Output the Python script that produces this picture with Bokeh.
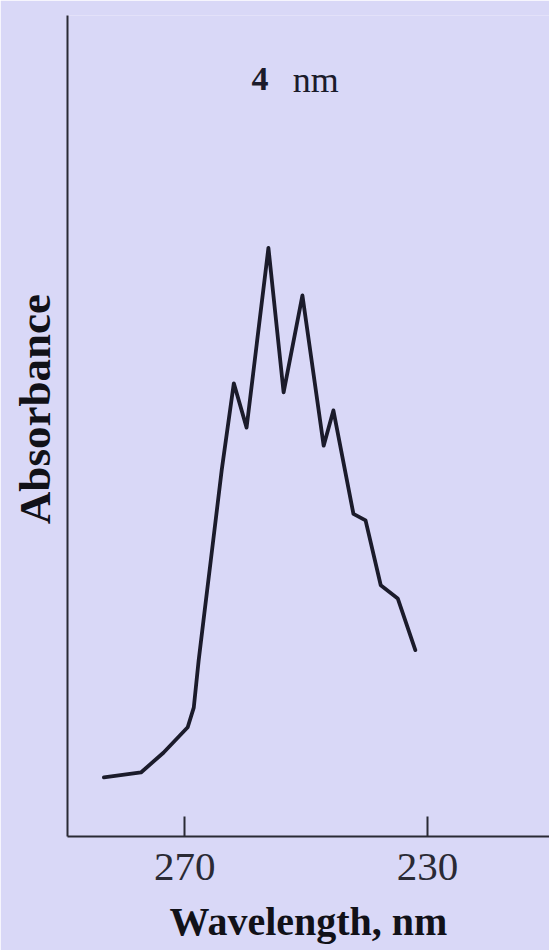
from bokeh.plotting import figure
from bokeh.models import Range1d, FixedTicker, Label
from bokeh.embed import file_html
from bokeh.resources import INLINE

# Absorption spectrum recorded with a 4 nm spectral bandwidth
wavelength_nm = [283.3, 277.2, 273.5, 269.5, 268.5, 267.7, 266.9, 265.7, 263.9,
                 261.9, 259.8, 256.2, 253.7, 250.6, 247.1, 245.5, 242.2, 240.2,
                 237.7, 234.9, 232.0]
absorbance = [0.072, 0.078, 0.102, 0.133, 0.157, 0.214, 0.263, 0.336, 0.446,
              0.552, 0.498, 0.717, 0.541, 0.659, 0.476, 0.519, 0.393, 0.385,
              0.306, 0.290, 0.227]
x_ticks = [270, 230]
bandwidth_text = ["4", "nm"]

BG = "#D9D8F7"
INK = "#1b1b2b"
SERIF = "Liberation Serif"

p = figure(width=549, height=950, output_backend="svg", toolbar_location=None,
           x_range=Range1d(289.3, 209.9), y_range=Range1d(0, 1.0),
           min_border_left=67, min_border_right=0, min_border_top=15,
           min_border_bottom=114)

p.background_fill_color = BG
p.border_fill_color = BG
p.outline_line_color = None
p.xgrid.visible = False
p.ygrid.visible = False

p.line(wavelength_nm, absorbance, line_color=INK, line_width=3.8,
       line_join="round", line_cap="round")

# Wavelength axis: inward ticks only at the labelled values
xa = p.xaxis[0]
xa.ticker = FixedTicker(ticks=x_ticks)
xa.minor_tick_line_color = None
xa.major_tick_in = 20
xa.major_tick_out = 0
xa.major_tick_line_color = "#2a2a35"
xa.major_tick_line_width = 2
xa.axis_line_color = "#2a2a35"
xa.axis_line_width = 2.2
xa.major_label_text_font = SERIF
xa.major_label_text_font_size = "41px"
xa.major_label_text_color = "#2a2a35"
xa.major_label_standoff = 17
xa.axis_label = "Wavelength, nm"
xa.axis_label_text_font = SERIF
xa.axis_label_text_font_style = "bold"
xa.axis_label_text_font_size = "40px"
xa.axis_label_text_color = "#111118"
xa.axis_label_standoff = 16

# Absorbance axis: a bare line with its title (leading no-break spaces
# lift the title slightly above the axis centre)
ya = p.yaxis[0]
ya.ticker = FixedTicker(ticks=[])
ya.minor_tick_line_color = None
ya.major_tick_line_color = None
ya.axis_line_color = "#2a2a35"
ya.axis_line_width = 2
ya.axis_label = "\u00a0\u00a0\u00a0Absorbance"
ya.axis_label_text_font = SERIF
ya.axis_label_text_font_style = "bold"
ya.axis_label_text_font_size = "45px"
ya.axis_label_text_color = "#111118"
ya.axis_label_standoff = 8

# Bandwidth caption inside the frame
p.add_layout(Label(x=257.6, y=0.923, text=bandwidth_text[0], text_font=SERIF,
                   text_font_size="34px", text_font_style="bold",
                   text_color="#1b1b2b", text_align="center",
                   text_baseline="middle"))
p.add_layout(Label(x=248.4, y=0.921, text=bandwidth_text[1], text_font=SERIF,
                   text_font_size="36px", text_color="#1b1b2b",
                   text_align="center", text_baseline="middle"))

open("out.html", "w").write(file_html(p, INLINE))
